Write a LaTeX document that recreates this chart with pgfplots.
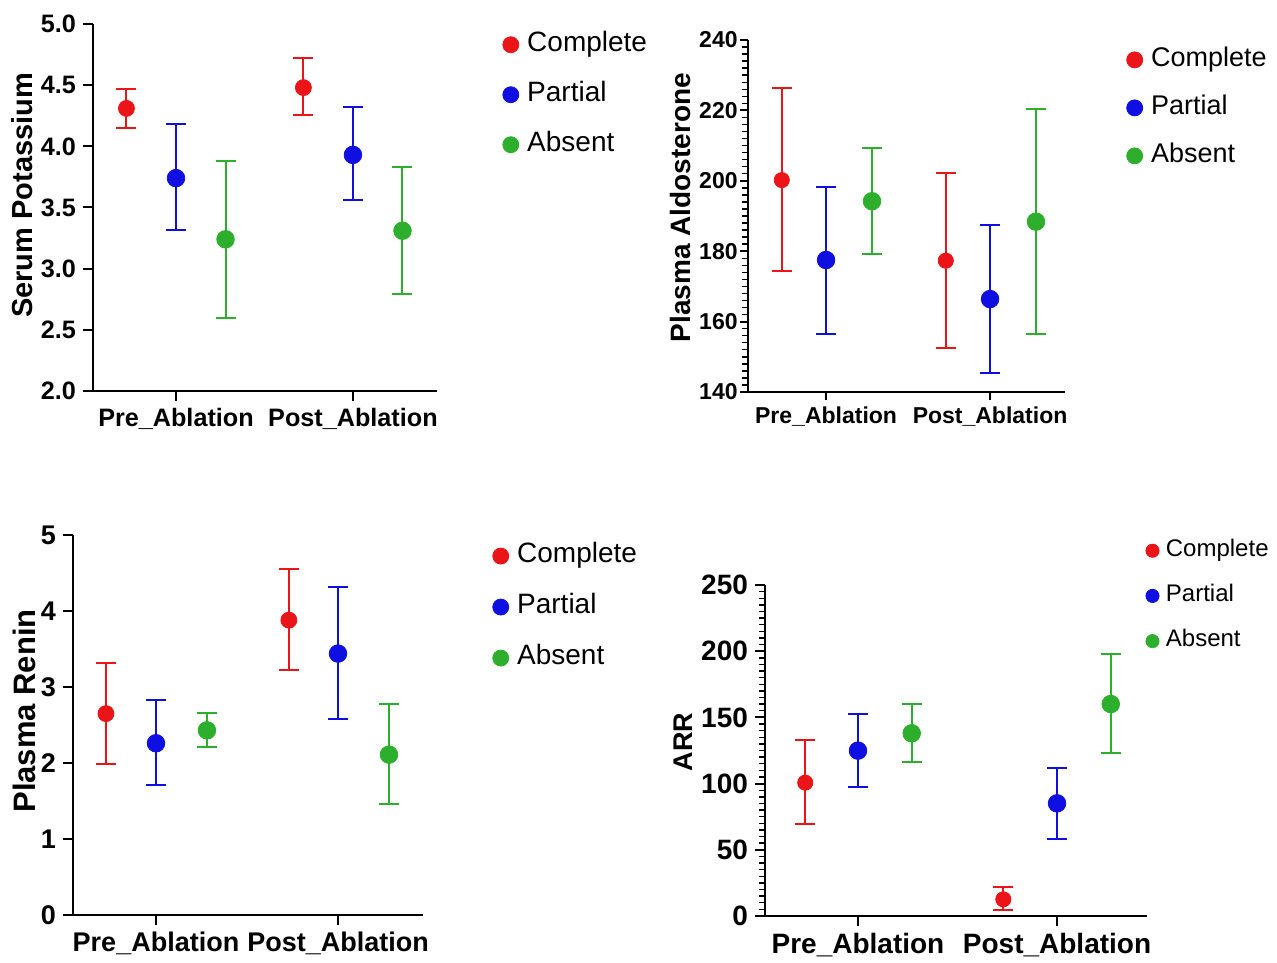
\documentclass[border=0pt]{standalone}
\usepackage{fontspec}
\setmainfont{Liberation Sans}
\usepackage{pgfplots}
\pgfplotsset{compat=1.18}

\definecolor{cred}{RGB}{235,20,25}
\definecolor{cblue}{RGB}{15,15,225}
\definecolor{cgreen}{RGB}{45,175,45}

\newcommand{\fs}[1]{\fontsize{#1}{#1}\selectfont}

\pgfplotsset{
  panel/.style={
    scale only axis, anchor=south west, clip=false,
    axis x line*=bottom, axis y line*=left,
    axis line style={line width=1pt},
    tick align=outside, major tick length=5pt, minor tick length=3pt,
    tick style={line width=1pt, black},
    minor tick style={line width=0.7pt},
    xtick={1,2}, xticklabels={Pre\_Ablation, Post\_Ablation},
    /pgf/number format/assume math mode=true,
    legend cell align=left,
    legend style={draw=none, fill=none, anchor=west, inner sep=0pt,
      row sep=9.5pt, nodes={inner sep=1pt, text height=10.5pt, text depth=3pt}},
    legend image code/.code={\fill (0pt,-0.5pt) circle (4pt); \path (-4pt,0pt) (7pt,0pt);},
  },
  dot/.style={only marks, mark=*, mark size=4.4pt, color=#1,
    error bars/y dir=both, error bars/y explicit,
    error bars/error bar style={line width=1pt},
    error bars/error mark options={rotate=90, line width=1pt, mark size=5pt}},
}

\begin{document}
\begin{tikzpicture}
\path[use as bounding box] (0,0) rectangle (638.5pt,-481pt);

% Serum potassium
\begin{axis}[panel, at={(46.5pt,-195.5pt)}, width=172pt, height=183.5pt,
  xmin=0.531, xmax=2.475, ymin=2, ymax=5, ytick={2,2.5,...,5},
  yticklabel style={/pgf/number format/.cd, fixed, fixed zerofill, precision=1},
  ticklabel style={font=\bfseries\fs{12.6}},
  ylabel={Serum Potassium},
  ylabel style={font=\bfseries\fs{14.5}, at={(axis description cs:-0.206,0.533)}, anchor=center},
  legend style={at={(axis description cs:1.189,0.81)}, font=\fs{14}},
  ]
  \addplot[dot=cred, mark size=4pt] coordinates {
    (0.72,4.31) += (0,0.16) -= (0,0.16)
    (1.72,4.48) += (0,0.24) -= (0,0.22)
  };
  \addplot[dot=cblue] coordinates {
    (1,3.74) += (0,0.44) -= (0,0.42)
    (2,3.93) += (0,0.39) -= (0,0.37)
  };
  \addplot[dot=cgreen] coordinates {
    (1.28,3.24) += (0,0.64) -= (0,0.64)
    (2.28,3.31) += (0,0.52) -= (0,0.52)
  };
  \legend{Complete,Partial,Absent}
\end{axis}

% Plasma aldosterone
\begin{axis}[panel, at={(374pt,-196pt)}, width=158.5pt, height=176pt,
  xmin=0.524, xmax=2.457, ymin=140, ymax=240, ytick={140,160,...,240},
  minor y tick num=9, major tick length=4pt,
  ticklabel style={font=\bfseries\fs{11.5}},
  yticklabel style={inner sep=1pt},
  ylabel={Plasma Aldosterone},
  ylabel style={font=\bfseries\fs{14}, at={(axis description cs:-0.212,0.524)}, anchor=center},
  legend style={at={(axis description cs:1.192,0.81)}, font=\fs{13.5}, row sep=8.5pt},
  ]
  \addplot[dot=cred, mark size=3.8pt] coordinates {
    (0.73,200.2) += (0,26.1) -= (0,25.7)
    (1.73,177.3) += (0,24.9) -= (0,24.9)
  };
  \addplot[dot=cblue] coordinates {
    (1,177.5) += (0,20.8) -= (0,20.9)
    (2,166.4) += (0,21.0) -= (0,20.9)
  };
  \addplot[dot=cgreen] coordinates {
    (1.28,194.2) += (0,15.0) -= (0,14.9)
    (2.28,188.4) += (0,31.9) -= (0,31.8)
  };
  \legend{Complete,Partial,Absent}
\end{axis}

% Plasma renin
\begin{axis}[panel, at={(36.5pt,-457.5pt)}, width=175pt, height=190pt,
  xmin=0.544, xmax=2.467, ymin=0, ymax=5, ytick={0,1,...,5},
  ticklabel style={font=\bfseries\fs{13.5}},
  ylabel={Plasma Renin},
  ylabel style={font=\bfseries\fs{15.5}, at={(axis description cs:-0.14,0.537)}, anchor=center},
  legend style={at={(axis description cs:1.197,0.813)}, font=\fs{14}, row sep=10pt},
  ]
  \addplot[dot=cred, mark size=4pt] coordinates {
    (0.725,2.65) += (0,0.67) -= (0,0.66)
    (1.73,3.88) += (0,0.67) -= (0,0.66)
  };
  \addplot[dot=cblue] coordinates {
    (1,2.26) += (0,0.57) -= (0,0.55)
    (2,3.44) += (0,0.87) -= (0,0.86)
  };
  \addplot[dot=cgreen] coordinates {
    (1.28,2.43) += (0,0.23) -= (0,0.22)
    (2.28,2.11) += (0,0.67) -= (0,0.65)
  };
  \legend{Complete,Partial,Absent}
\end{axis}

% ARR
\begin{axis}[panel, at={(382.5pt,-458pt)}, width=191pt, height=165.5pt,
  xmin=0.533, xmax=2.452, ymin=0, ymax=250, ytick={0,50,...,250},
  minor y tick num=9,
  ticklabel style={font=\bfseries\fs{14}},
  ylabel={ARR},
  ylabel style={font=\bfseries\fs{13.5}, at={(axis description cs:-0.215,0.526)}, anchor=center},
  legend style={at={(axis description cs:0.995,0.97)}, font=\fs{12}, row sep=9pt,
    nodes={inner sep=1pt, text height=9pt, text depth=2.6pt}},
  legend image code/.code={\fill (0pt,-0.5pt) circle (3.3pt); \path (-3.3pt,0pt) (5.5pt,0pt);},
  ]
  \addplot[dot=cred, mark size=3.8pt] coordinates {
    (0.735,100.7) += (0,32.0) -= (0,31.2)
    (1.73,12.6) += (0,9.1) -= (0,8.1)
  };
  \addplot[dot=cblue] coordinates {
    (1,124.9) += (0,27.4) -= (0,27.2)
    (2,85.1) += (0,26.9) -= (0,27.2)
  };
  \addplot[dot=cgreen] coordinates {
    (1.27,138.0) += (0,22.1) -= (0,21.4)
    (2.27,160.1) += (0,37.5) -= (0,36.7)
  };
  \legend{Complete,Partial,Absent}
\end{axis}
\end{tikzpicture}
\end{document}
